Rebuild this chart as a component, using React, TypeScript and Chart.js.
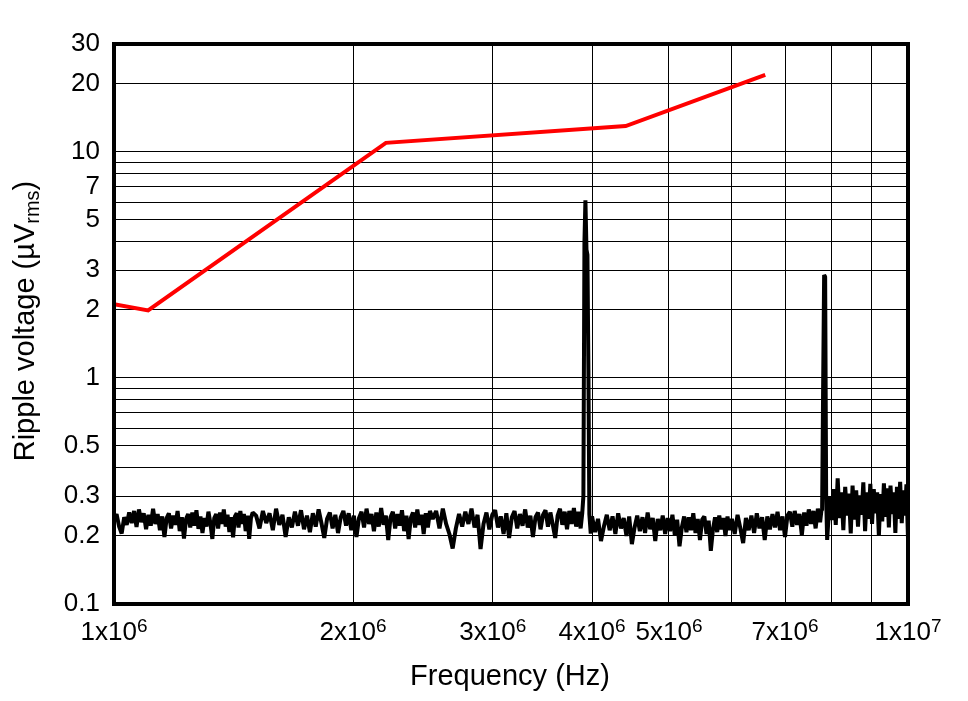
import React, { useEffect, useRef } from "react";
import { Chart, registerables } from "chart.js";

Chart.register(...registerables);

// ---- Data ----
// Red limit line: [frequency MHz, ripple µVrms]
const redLine: [number, number][] = [
  [1.0, 2.12],
  [1.104, 1.99],
  [2.2, 10.96],
  [4.41, 13.0],
  [6.61, 21.9],
];

// Measured ripple spectrum: [frequency MHz, ripple µVrms]
const noiseA: [number, number][] = [
  [1.0000, 0.236], [1.0075, 0.250], [1.0150, 0.220], [1.0225, 0.205], [1.0300, 0.242],
  [1.0375, 0.224], [1.0450, 0.254], [1.0525, 0.228], [1.0600, 0.258], [1.0675, 0.219],
  [1.0750, 0.262], [1.0825, 0.230], [1.0900, 0.252], [1.0975, 0.214], [1.1050, 0.248],
  [1.1125, 0.222], [1.1200, 0.264], [1.1275, 0.226], [1.1350, 0.250], [1.1425, 0.212],
  [1.1500, 0.244], [1.1575, 0.198], [1.1650, 0.240], [1.1725, 0.252], [1.1800, 0.216],
  [1.1875, 0.246], [1.1950, 0.224], [1.2025, 0.258], [1.2100, 0.210], [1.2175, 0.242],
  [1.2250, 0.195], [1.2325, 0.238], [1.2400, 0.250], [1.2475, 0.218], [1.2550, 0.254],
  [1.2625, 0.222], [1.2700, 0.260], [1.2775, 0.215], [1.2850, 0.244], [1.2925, 0.206],
  [1.3000, 0.240], [1.3075, 0.220], [1.3150, 0.256], [1.3225, 0.228], [1.3300, 0.194],
  [1.3375, 0.240], [1.3450, 0.250], [1.3525, 0.216], [1.3600, 0.254], [1.3675, 0.226],
  [1.3750, 0.262], [1.3825, 0.220], [1.3900, 0.248], [1.3975, 0.208], [1.4050, 0.242],
  [1.4125, 0.197], [1.4200, 0.244], [1.4275, 0.252], [1.4350, 0.218], [1.4425, 0.258],
  [1.4500, 0.226], [1.4575, 0.250], [1.4650, 0.210], [1.4725, 0.246], [1.4800, 0.194],
  [1.4875, 0.240], [1.4950, 0.254],
];

const noiseB: [number, number][] = [
  [1.510, 0.246], [1.525, 0.216], [1.540, 0.258], [1.555, 0.228], [1.570, 0.252],
  [1.585, 0.212], [1.600, 0.264], [1.615, 0.224], [1.630, 0.248], [1.645, 0.198],
  [1.660, 0.242], [1.675, 0.218], [1.690, 0.256], [1.705, 0.222], [1.720, 0.260],
  [1.735, 0.214], [1.750, 0.246], [1.765, 0.208], [1.780, 0.252], [1.795, 0.220],
  [1.810, 0.262], [1.825, 0.228], [1.840, 0.196], [1.855, 0.238], [1.870, 0.254],
  [1.885, 0.216], [1.900, 0.248], [1.915, 0.206], [1.930, 0.242], [1.945, 0.258],
  [1.960, 0.222], [1.975, 0.252], [1.990, 0.212], [2.005, 0.246], [2.020, 0.198],
  [2.035, 0.240], [2.050, 0.256], [2.065, 0.218], [2.080, 0.264], [2.095, 0.226],
  [2.110, 0.250], [2.125, 0.210], [2.140, 0.254], [2.155, 0.220], [2.170, 0.266],
  [2.185, 0.224], [2.200, 0.246], [2.215, 0.192], [2.230, 0.242], [2.245, 0.256],
  [2.260, 0.216], [2.275, 0.250], [2.290, 0.222], [2.305, 0.260], [2.320, 0.210],
  [2.335, 0.246], [2.350, 0.194], [2.365, 0.240], [2.380, 0.254], [2.395, 0.218],
  [2.410, 0.262], [2.425, 0.224], [2.440, 0.248], [2.455, 0.204], [2.470, 0.252],
  [2.485, 0.218], [2.500, 0.258],
];

const noiseC: [number, number][] = [
  [2.520, 0.238], [2.545, 0.258], [2.570, 0.216], [2.595, 0.264], [2.620, 0.226],
  [2.645, 0.204], [2.670, 0.176], [2.695, 0.216], [2.720, 0.250], [2.745, 0.220],
  [2.770, 0.256], [2.795, 0.226], [2.820, 0.264], [2.845, 0.218], [2.870, 0.248],
  [2.895, 0.175], [2.920, 0.226], [2.945, 0.254], [2.970, 0.214], [2.995, 0.248],
  [3.020, 0.260], [3.045, 0.218], [3.070, 0.244], [3.095, 0.204], [3.120, 0.252],
  [3.145, 0.196], [3.170, 0.242], [3.195, 0.258], [3.220, 0.216], [3.245, 0.250],
  [3.270, 0.222], [3.295, 0.262], [3.320, 0.218], [3.345, 0.246], [3.370, 0.198],
  [3.395, 0.242], [3.420, 0.254], [3.445, 0.214], [3.470, 0.248], [3.495, 0.260],
  [3.520, 0.220], [3.545, 0.254], [3.570, 0.224], [3.595, 0.196], [3.620, 0.246],
  [3.645, 0.264], [3.670, 0.224], [3.695, 0.256], [3.720, 0.214], [3.745, 0.258],
  [3.770, 0.226], [3.795, 0.266], [3.820, 0.220], [3.845, 0.256], [3.870, 0.216],
  [3.888, 0.252],
  // switching spike near 3.9 MHz
  [3.901, 0.30], [3.913, 4.0], [3.924, 6.1], [3.936, 3.7], [3.947, 3.5],
  [3.958, 1.1], [3.969, 0.25], [3.985, 0.205],
];

const noiseD: [number, number][] = [
  [4.000, 0.244], [4.035, 0.208], [4.070, 0.238], [4.105, 0.190], [4.140, 0.220],
  [4.175, 0.248], [4.210, 0.212], [4.245, 0.244], [4.280, 0.204], [4.315, 0.252],
  [4.350, 0.216], [4.385, 0.240], [4.420, 0.200], [4.455, 0.244], [4.490, 0.184],
  [4.525, 0.218], [4.560, 0.246], [4.595, 0.210], [4.630, 0.242], [4.665, 0.206],
  [4.700, 0.254], [4.735, 0.214], [4.770, 0.240], [4.805, 0.190], [4.840, 0.238],
  [4.875, 0.212], [4.910, 0.246], [4.945, 0.204], [4.980, 0.240], [5.015, 0.210],
  [5.050, 0.248], [5.085, 0.202], [5.120, 0.236], [5.155, 0.180], [5.190, 0.218],
  [5.225, 0.244], [5.260, 0.208], [5.295, 0.242], [5.330, 0.212], [5.365, 0.252],
  [5.400, 0.206], [5.435, 0.238], [5.470, 0.192], [5.505, 0.236], [5.540, 0.244],
  [5.575, 0.204], [5.610, 0.234], [5.645, 0.172], [5.680, 0.214], [5.715, 0.242],
  [5.750, 0.208], [5.785, 0.246], [5.820, 0.214], [5.855, 0.240], [5.890, 0.200],
  [5.925, 0.244], [5.960, 0.212],
];

const noiseE: [number, number][] = [
  [6.000, 0.238], [6.050, 0.204], [6.100, 0.248], [6.150, 0.216], [6.200, 0.186],
  [6.250, 0.240], [6.300, 0.212], [6.350, 0.246], [6.400, 0.206], [6.450, 0.252],
  [6.500, 0.216], [6.550, 0.242], [6.600, 0.192], [6.650, 0.244], [6.700, 0.214],
  [6.750, 0.250], [6.800, 0.218], [6.850, 0.256], [6.900, 0.212], [6.950, 0.244],
  [7.000, 0.198], [7.050, 0.246], [7.100, 0.256], [7.150, 0.220], [7.200, 0.258],
  [7.250, 0.224], [7.300, 0.250], [7.350, 0.202], [7.400, 0.254], [7.450, 0.222],
  [7.500, 0.262], [7.550, 0.226], [7.600, 0.258], [7.650, 0.216], [7.700, 0.264],
  [7.750, 0.230], [7.780, 0.260],
  // switching spike near 7.8 MHz
  [7.795, 0.26], [7.818, 0.90], [7.841, 2.85], [7.864, 2.80], [7.887, 0.30],
];

const noiseF: [number, number][] = [
  [7.910, 0.192], [7.930, 0.222], [7.975, 0.300], [8.020, 0.235], [8.065, 0.322],
  [8.110, 0.224], [8.155, 0.360], [8.200, 0.240], [8.245, 0.312], [8.290, 0.212],
  [8.335, 0.330], [8.380, 0.246], [8.425, 0.308], [8.470, 0.205], [8.515, 0.334],
  [8.560, 0.236], [8.605, 0.318], [8.650, 0.220], [8.695, 0.302], [8.740, 0.248],
  [8.785, 0.345], [8.830, 0.210], [8.875, 0.312], [8.920, 0.238], [8.965, 0.340],
  [9.010, 0.226], [9.055, 0.322], [9.100, 0.252], [9.145, 0.312], [9.190, 0.200],
  [9.235, 0.306], [9.280, 0.232], [9.325, 0.342], [9.370, 0.243], [9.415, 0.325],
  [9.460, 0.218], [9.505, 0.334], [9.550, 0.250], [9.595, 0.312], [9.640, 0.206],
  [9.685, 0.330], [9.730, 0.238], [9.775, 0.347], [9.820, 0.228], [9.865, 0.318],
  [9.910, 0.246], [9.955, 0.338], [10.000, 0.195],
];

// Axis ticks
const xGridValues = [1e6, 2e6, 3e6, 4e6, 5e6, 6e6, 7e6, 8e6, 9e6, 1e7];
const xLabelValues = [1e6, 2e6, 3e6, 4e6, 5e6, 7e6, 1e7];
const xLabelMain = ["1x10", "2x10", "3x10", "4x10", "5x10", "7x10", "1x10"];
const xLabelExp = ["6", "6", "6", "6", "6", "6", "7"];

const yGridValues = [
  0.1, 0.2, 0.3, 0.4, 0.5, 0.6, 0.7, 0.8, 0.9,
  1, 2, 3, 4, 5, 6, 7, 8, 9,
  10, 20, 30,
];
const yLabelValues = [0.1, 0.2, 0.3, 0.5, 1, 2, 3, 5, 7, 10, 20, 30];

const xTitle = "Frequency (Hz)";
const yTitleMain = "Ripple voltage (µV";
const yTitleSub = "rms";
const yTitleEnd = ")";

const FONT = '"Liberation Sans", Arial, sans-serif';

const textPlugin = {
  id: "customText",
  afterDraw(chart: any) {
    const ctx = chart.ctx as CanvasRenderingContext2D;
    const { left, right, top, bottom } = chart.chartArea;
    ctx.save();
    // frame
    ctx.strokeStyle = "#000";
    ctx.lineWidth = 4;
    ctx.strokeRect(left, top, right - left, bottom - top);

    ctx.fillStyle = "#000";
    ctx.textBaseline = "alphabetic";
    ctx.textAlign = "left";
    // x tick labels with superscript exponent
    const xs = chart.scales.x;
    xLabelValues.forEach((v, i) => {
      const px = xs.getPixelForValue(v);
      ctx.font = `26px ${FONT}`;
      const wm = ctx.measureText(xLabelMain[i]).width;
      ctx.font = `19px ${FONT}`;
      const we = ctx.measureText(xLabelExp[i]).width;
      const start = px - (wm + we) / 2;
      ctx.font = `26px ${FONT}`;
      ctx.fillText(xLabelMain[i], start, 640);
      ctx.font = `19px ${FONT}`;
      ctx.fillText(xLabelExp[i], start + wm, 632);
    });

    // x title
    ctx.font = `29px ${FONT}`;
    ctx.textAlign = "center";
    ctx.fillText(xTitle, 510, 685);

    // y title with subscript
    ctx.translate(34, 321);
    ctx.rotate(-Math.PI / 2);
    ctx.textAlign = "left";
    ctx.font = `29px ${FONT}`;
    const w1 = ctx.measureText(yTitleMain).width;
    const w3 = ctx.measureText(yTitleEnd).width;
    ctx.font = `20px ${FONT}`;
    const w2 = ctx.measureText(yTitleSub).width;
    const s = -(w1 + w2 + w3) / 2;
    ctx.font = `29px ${FONT}`;
    ctx.fillText(yTitleMain, s, 0);
    ctx.font = `20px ${FONT}`;
    ctx.fillText(yTitleSub, s + w1, 5);
    ctx.font = `29px ${FONT}`;
    ctx.fillText(yTitleEnd, s + w1 + w2, 0);
    ctx.restore();
  },
};

export default function App() {
  const ref = useRef<HTMLCanvasElement | null>(null);

  useEffect(() => {
    if (!ref.current) return;
    const toXY = (arr: [number, number][]) => arr.map(([f, v]) => ({ x: f * 1e6, y: v }));
    const noise = [noiseA, noiseB, noiseC, noiseD, noiseE, noiseF].flatMap(toXY);

    const chart = new Chart(ref.current, {
      type: "line",
      data: {
        datasets: [
          {
            label: "Ripple",
            data: noise,
            borderColor: "#000000",
            borderWidth: 4,
            borderJoinStyle: "bevel",
            pointRadius: 0,
            tension: 0,
            fill: false,
          },
          {
            label: "Limit",
            data: toXY(redLine),
            borderColor: "#ff0000",
            borderWidth: 4,
            pointRadius: 0,
            tension: 0,
            fill: false,
          },
        ],
      },
      options: {
        responsive: false,
        animation: false,
        layout: { padding: { top: 44, right: 60, left: 0, bottom: 0 } },
        plugins: { legend: { display: false }, tooltip: { enabled: false } },
        scales: {
          x: {
            type: "logarithmic",
            min: 1e6,
            max: 1e7,
            afterBuildTicks: (s: any) => {
              s.ticks = xGridValues.map((v) => ({ value: v }));
            },
            afterFit: (s: any) => {
              s.height = 97;
            },
            ticks: { display: false, autoSkip: false },
            grid: { color: "#000", lineWidth: 1, drawTicks: false },
            border: { display: false },
          },
          y: {
            type: "logarithmic",
            min: 0.1,
            max: 30,
            afterBuildTicks: (s: any) => {
              s.ticks = yGridValues.map((v) => ({ value: v }));
            },
            afterFit: (s: any) => {
              s.width = 114;
            },
            ticks: {
              autoSkip: false,
              padding: 14,
              color: "#000",
              font: { family: FONT, size: 26 },
              callback: (val: any) => {
                const v = Number(val);
                return yLabelValues.some((l) => Math.abs(l - v) < 1e-9) ? String(v) : "";
              },
            },
            grid: { color: "#000", lineWidth: 1, drawTicks: false },
            border: { display: false },
          },
        },
      } as any,
      plugins: [textPlugin],
    });
    return () => chart.destroy();
  }, []);

  return (
    <div style={{ position: "absolute", left: 0, top: 0, width: 968, height: 701, background: "#fff" }}>
      <canvas ref={ref} width={968} height={701} style={{ display: "block", width: 968, height: 701 }} />
    </div>
  );
}
